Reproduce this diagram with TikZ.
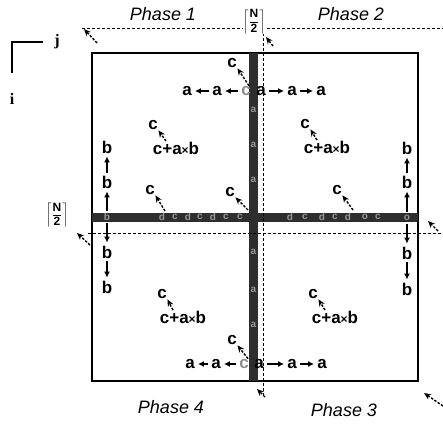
\documentclass[tikz,border=0pt]{standalone}
\usepackage{fontspec}
\usepackage{graphicx}
\setmainfont{Liberation Sans}
\newfontfamily\serifb{Liberation Serif}
\usetikzlibrary{arrows.meta}
\newcommand{\halfceil}{$\displaystyle\left\lceil\frac{\mbox{\fontsize{12}{12}\selectfont\bfseries N}}{\mbox{\fontsize{12}{12}\selectfont\bfseries 2}}\right\rceil$}
\newcommand{\tms}{{\fontsize{12}{12}\selectfont×}}
\begin{document}
\begin{tikzpicture}[x=1pt,y=-1pt,
  lt/.style={font=\fontsize{17}{19}\selectfont\bfseries, inner sep=0.5pt},
  dim/.style={font=\fontsize{17}{19}\selectfont\bfseries, inner sep=0.5pt, text=black!45},
  faint/.style={font=\fontsize{10}{12}\selectfont\bfseries, inner sep=0pt, text=black!40},
  ph/.style={font=\fontsize{18}{20}\selectfont\itshape},
  arr/.style={-{Latex[length=6pt,width=6pt]}, line width=1.6pt, shorten <=2.5pt, shorten >=2.5pt},
  darr/.style={dash pattern=on 2.5pt off 1.5pt, line width=1.4pt, -{Stealth[length=7pt,width=6pt]}},
  dline/.style={dash pattern=on 3pt off 2pt, line width=0.9pt},
  bar/.style={fill=black!82, draw=none},
  halfN/.style={inner sep=0pt, fill=white}
]
\useasboundingbox (0,0) rectangle (443,423);

% main box
\draw[line width=1.4pt] (92,53) rectangle (418,381);

% thick bars
\path[bar] (249,53) rectangle (258,381);
\path[bar] (92,213) rectangle (418,222);

% faint glyphs in bars
\foreach \x/\t in {162/d,175/c,188/d,200/c,213/d,226/c,240/c,290/d,305/c,322/d,335/c,348/d,365/o,378/c}
  \node[faint] at (\x,217) {\t};
\foreach \y in {110,145,180,252,290,325}
  \node[faint] at (253.5,\y) {a};
\node[faint] at (107,217) {b};
\node[faint] at (407,218) {o};

% dashed lines
\draw[dline] (82,28) -- (443,28);
\draw[dline] (263,28) -- (263,398);
\draw[dline] (88,233) -- (443,233);

% axes
\draw[line width=1.4pt] (43,42) -- (12,42) -- (12,73);
\node[font=\serifb\fontsize{16}{18}\selectfont\bfseries] (jlab) at (57,42) {j};
\node[font=\serifb\fontsize{16}{18}\selectfont\bfseries] (ilab) at (12,99) {i};

% ceiling N/2 labels
\node[halfN] (ntop) at (254,22) {\halfceil};
\node[halfN] (nleft) at (57,215) {\halfceil};

% phase labels
\node[ph] (p1) at (163,14) {Phase 1};
\node[ph] (p2) at (351,14) {Phase 2};
\node[ph] (p4) at (171,407) {Phase 4};
\node[ph] (p3) at (344,410) {Phase 3};

% top row
\node[lt] (ta1) at (187,91) {a};
\node[lt] (ta2) at (217,91) {a};
\node[dim] (tc) at (246,91) {c};
\node[lt] (ta3) at (261,91) {a};
\node[lt] (ta4) at (292,91) {a};
\node[lt] (ta5) at (321,91) {a};
\draw[arr] (ta2) -- (ta1);
\draw[arr] (tc) -- (ta2);
\draw[arr] (ta3) -- (ta4);
\draw[arr] (ta4) -- (ta5);
\node[lt] (tcu) at (232,63) {c};
\draw[darr] ([xshift=3pt]tc.north) -- (tcu.south east);

% bottom row
\node[lt] (ba1) at (190,364) {a};
\node[lt] (ba2) at (216,364) {a};
\node[dim] (bc) at (244,364) {c};
\node[lt] (ba3) at (259,364) {a};
\node[lt] (ba4) at (292,364) {a};
\node[lt] (ba5) at (322,364) {a};
\draw[arr] (ba2) -- (ba1);
\draw[arr] (bc) -- (ba2);
\draw[arr] (ba3) -- (ba4);
\draw[arr] (ba4) -- (ba5);
\node[lt] (bcu) at (232,340) {c};
\draw[darr] ([xshift=4pt]bc.north) -- (bcu.south east);

% left b column
\node[lt] (lb1) at (107,147) {b};
\node[lt] (lb2) at (107,182) {b};
\coordinate (lbar) at (107,217);
\node[lt] (lb3) at (107,252) {b};
\node[lt] (lb4) at (107,287) {b};
\draw[arr] (lb2) -- (lb1);
\draw[arr, shorten <=6pt] (lbar) -- (lb2);
\draw[arr, shorten <=6pt] (lbar) -- (lb3);
\draw[arr] (lb3) -- (lb4);

% right b column
\node[lt] (rb1) at (407,148) {b};
\node[lt] (rb2) at (407,182) {b};
\coordinate (rbar) at (407,218);
\node[lt] (rb3) at (407,253) {b};
\node[lt] (rb4) at (407,289) {b};
\draw[arr] (rb2) -- (rb1);
\draw[arr, shorten <=6pt] (rbar) -- (rb2);
\draw[arr, shorten <=6pt] (rbar) -- (rb3);
\draw[arr] (rb3) -- (rb4);

% quadrant c / c+a x b
\node[lt] (q1c) at (153,125) {c};
\node[lt] (q1s) at (176,148) {c+a\tms b};
\draw[darr] ([xshift=-10pt]q1s.north) -- (q1c.south east);
\node[lt] (q2c) at (305,124) {c};
\node[lt] (q2s) at (327,147) {c+a\tms b};
\draw[darr] ([xshift=-10pt]q2s.north) -- (q2c.south east);
\node[lt] (q4c) at (162,294) {c};
\node[lt] (q4s) at (183,317) {c+a\tms b};
\draw[darr] ([xshift=-10pt]q4s.north) -- (q4c.south east);
\node[lt] (q3c) at (313,294) {c};
\node[lt] (q3s) at (335,317) {c+a\tms b};
\draw[darr] ([xshift=-10pt]q3s.north) -- (q3c.south east);

% c near horizontal bar
\coordinate (h1) at (165,211);
\node[lt] (hc1) at (150,190) {c};
\draw[darr] (h1) -- (hc1.south east);
\coordinate (h2) at (248,210);
\node[lt] (hc2) at (230,192) {c};
\draw[darr] (h2) -- (hc2.south east);
\coordinate (h3) at (353,210);
\node[lt] (hc3) at (337,190) {c};
\draw[darr] (h3) -- (hc3.south east);

% corner / direction arrows
\coordinate (tl0) at (97,43);  \coordinate (tl1) at (84,29);
\coordinate (tm0) at (273,46); \coordinate (tm1) at (266,37);
\coordinate (l0) at (90,245);  \coordinate (l1) at (77,233);
\coordinate (r0) at (438,231); \coordinate (r1) at (428,221);
\coordinate (bm0) at (265,397); \coordinate (bm1) at (257,389);
\coordinate (br0) at (443,406); \coordinate (br1) at (424,393);
\draw[darr] (tl0) -- (tl1);
\draw[darr] (tm0) -- (tm1);
\draw[darr] (l0) -- (l1);
\draw[darr] (r0) -- (r1);
\draw[darr] (bm0) -- (bm1);
\draw[darr] (br0) -- (br1);
\end{tikzpicture}
\end{document}
